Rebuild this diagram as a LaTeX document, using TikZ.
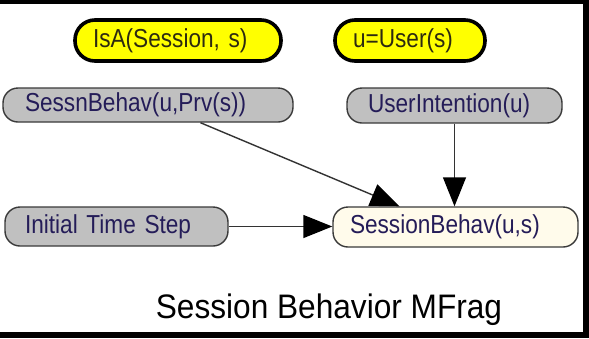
\documentclass[tikz,border=0pt]{standalone}
\usepackage{fontspec}
\setmainfont{Liberation Sans}
\newfontfamily\labelface[FakeStretch=0.87]{Liberation Sans}
\newfontfamily\captionface[FakeStretch=0.93]{Liberation Sans}
\usetikzlibrary{arrows.meta,calc}

\definecolor{nodegrey}{HTML}{C0C0C0}
\definecolor{nodeivory}{HTML}{FFFBEB}
\definecolor{ctxyellow}{HTML}{FFFF00}
\definecolor{labelink}{HTML}{241C58}
\definecolor{ctxink}{HTML}{2D2A10}
\definecolor{rimgrey}{HTML}{3A3A3A}

\tikzset{
  capsule/.style={rectangle, align=left, inner ysep=0pt,
    font=\labelface\fontsize{26}{30}\selectfont},
  resident/.style={capsule, fill=nodegrey, draw=rimgrey, line width=1.4pt,
    rounded corners=15pt, text=labelink},
  target/.style={capsule, fill=nodeivory, draw=rimgrey, line width=1.4pt,
    rounded corners=15pt, text=labelink},
  context/.style={capsule, fill=ctxyellow, draw=black, line width=3.6pt,
    rounded corners=20pt, text=ctxink},
  link/.style={draw=black!80, line width=1.4pt,
    -{Triangle[length=29pt,width=23pt,color=black]}},
}

\begin{document}
\begin{tikzpicture}[x=1pt,y=-1pt]
  \useasboundingbox (0,0) rectangle (589,338);
  \fill[white] (0,0) rectangle (589,338);

  % frame strips along top, right and bottom
  \fill[black] (0,0) rectangle (589,4);
  \fill[black] (583,0) rectangle (589,338);
  \fill[black] (0,332) rectangle (589,338);

  % context nodes
  \node[context, minimum width=206pt, minimum height=41pt,
        inner xsep=18pt, text width=170pt] (isa) at (178,40.5) {IsA(Session, s)};
  \node[context, minimum width=150pt, minimum height=41pt,
        inner xsep=18pt, text width=114pt] (usr) at (410,40.5) {u=User(s)};

  % parent nodes
  \node[resident, minimum width=290pt, minimum height=34pt,
        inner xsep=22pt, text width=246pt] (prev) at (148,105) {SessnBehav(u,Prv(s))};
  \node[resident, minimum width=215pt, minimum height=35pt,
        inner xsep=21pt, text width=173pt] (intent) at (454.5,105.5) {UserIntention(u)};
  \node[resident, minimum width=223pt, minimum height=39pt,
        inner xsep=20pt, text width=183pt] (init) at (116.5,226.5) {Initial Time Step};

  % resident node
  \node[target, minimum width=245pt, minimum height=40pt,
        inner xsep=17pt, text width=211pt] (behav) at (455.5,227) {SessionBehav(u,s)};

  % connectors
  \draw[link] ($(prev.south west)!0.68!(prev.south east)$)
           -- ($(behav.north west)!0.273!(behav.north east)$);
  \draw[link] (intent.south) -- (intent.south |- behav.north);
  \draw[link] (init.east) -- (init.east -| behav.west);

  % caption
  \node[anchor=base, inner sep=0pt, font=\captionface\fontsize{34}{40}\selectfont]
    (caption) at (329,318) {Session Behavior MFrag};
\end{tikzpicture}
\end{document}
